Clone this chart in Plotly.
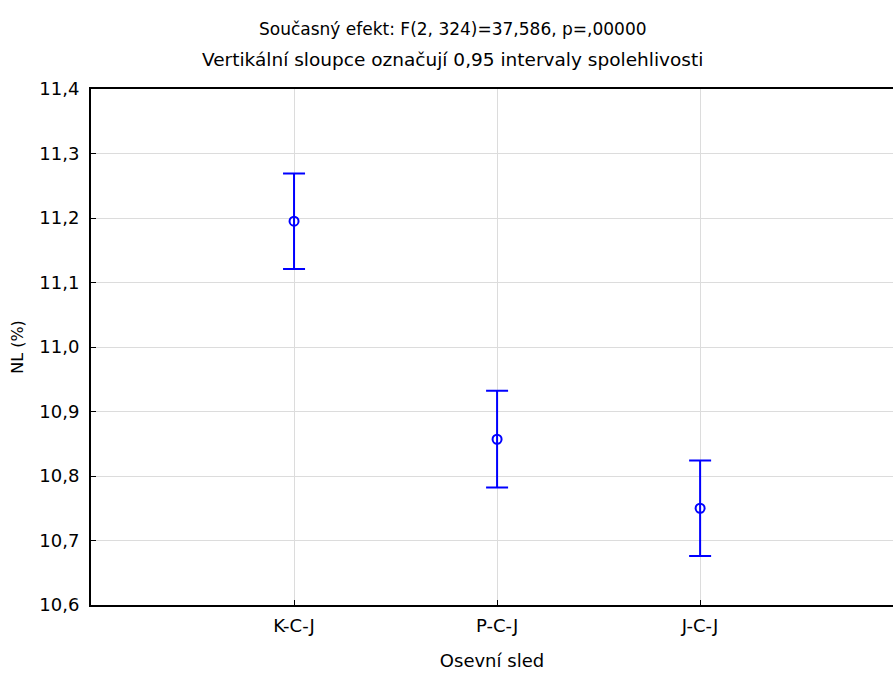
import plotly.graph_objects as go

categories = ["K-C-J", "P-C-J", "J-C-J"]
means = [11.195, 10.857, 10.750]
ci_half = [0.074, 0.075, 0.074]
y_ticks = [10.6, 10.7, 10.8, 10.9, 11.0, 11.1, 11.2, 11.3, 11.4]

blue = "#0000FF"
font_family = "DejaVu Sans, Verdana, sans-serif"

fig = go.Figure()
fig.add_trace(go.Scatter(
    x=categories, y=means, mode="markers",
    marker=dict(symbol="circle-open", size=9, color=blue, line=dict(width=2, color=blue)),
    error_y=dict(type="data", array=ci_half, visible=True, color=blue, thickness=2, width=11),
    showlegend=False,
))

fig.update_layout(
    width=893, height=675,
    margin=dict(l=91, r=0, t=89, b=70),
    paper_bgcolor="white", plot_bgcolor="white",
    separators=", ",
    font=dict(family=font_family, size=17, color="black"),
    annotations=[
        dict(text="Současný efekt: F(2, 324)=37,586, p=,00000", xref="paper", yref="paper",
             x=0.451, y=1, yshift=60, xanchor="center", yanchor="middle", showarrow=False,
             font=dict(size=17)),
        dict(text="Vertikální sloupce označují 0,95 intervaly spolehlivosti", xref="paper", yref="paper",
             x=0.451, y=1, yshift=30, xanchor="center", yanchor="middle", showarrow=False,
             font=dict(size=18.5)),
    ],
    xaxis=dict(
        type="category", range=[-1, 2.95],
        showline=True, linecolor="black", linewidth=2, mirror=True,
        showgrid=True, gridcolor="#dcdcdc", gridwidth=1,
        ticks="inside", ticklen=5, tickcolor="black",
        tickfont=dict(size=18), ticklabelstandoff=3,
        title=dict(text="Osevní sled", font=dict(size=18), standoff=20),
        zeroline=False,
    ),
    yaxis=dict(
        range=[10.6, 11.4], tickvals=y_ticks, tickformat=".1f",
        showline=True, linecolor="black", linewidth=2, mirror=False,
        showgrid=True, gridcolor="#dcdcdc", gridwidth=1,
        ticks="inside", ticklen=5, tickcolor="black",
        tickfont=dict(size=18), ticklabelstandoff=6,
        title=dict(text="NL (%)", font=dict(size=16), standoff=12),
        zeroline=False,
    ),
)

fig.write_html("out.html")
